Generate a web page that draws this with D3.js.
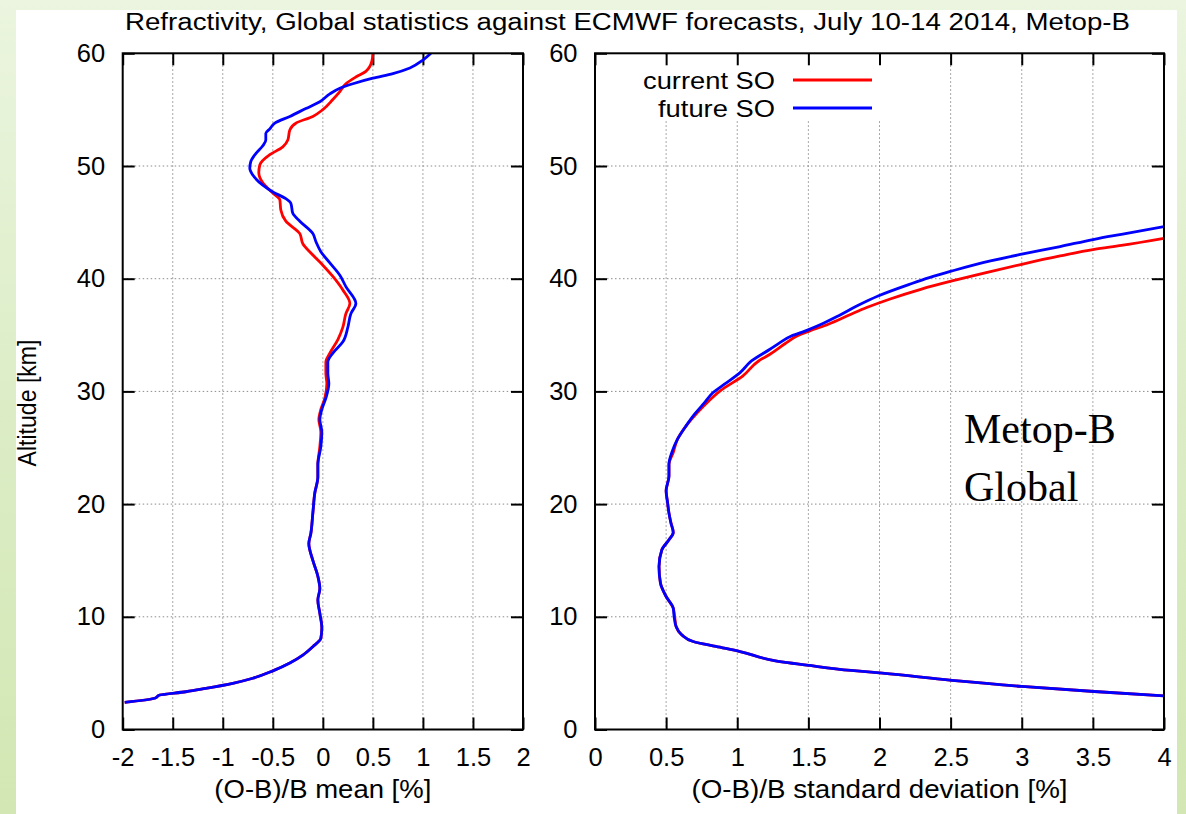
<!DOCTYPE html>
<html>
<head>
<meta charset="utf-8">
<script src="https://cdn.jsdelivr.net/npm/d3@7"></script>
<style>
html,body{margin:0;padding:0;}
body{width:1186px;height:814px;overflow:hidden;background:linear-gradient(180deg,#ebf5df 0%,#dcedc6 50%,#d2e7b3 100%);}
svg{display:block;}
text{font-family:"Liberation Sans",Arial,Helvetica,sans-serif;fill:#000;}
</style>
</head>
<body>
<svg id="chart" width="1186" height="814"></svg>
<script>
// ---------- data ----------
const titleText = "Refractivity, Global statistics against ECMWF forecasts, July 10-14 2014, Metop-B";
const yTicks = [0, 10, 20, 30, 40, 50, 60];
const xTicksMean = [-2, -1.5, -1, -0.5, 0, 0.5, 1, 1.5, 2];
const xTicksStd = [0, 0.5, 1, 1.5, 2, 2.5, 3, 3.5, 4];
const seriesNames = ["current SO", "future SO"];
const seriesColors = ["#ff0000", "#0000ff"];

// [altitude km, (O-B)/B mean %]
const meanCurrent = [
  [2.41,-1.98],[2.77,-1.68],[3.06,-1.63],[3.35,-1.37],[3.65,-1.17],[4.1,-0.90],[4.55,-0.70],
  [5.2,-0.50],[5.9,-0.33],[6.6,-0.20],[7.35,-0.10],[8.1,-0.02],[9.0,-0.01],[10.3,-0.03],
  [11.5,-0.05],[12.5,-0.03],[13.6,-0.05],[15.0,-0.10],[16.5,-0.14],[17.4,-0.12],[19.2,-0.10],
  [21.0,-0.08],[22.4,-0.05],[23.5,-0.05],[25.1,-0.03],[26.4,-0.02],[27.5,-0.04],[28.4,-0.02],
  [29.4,0.02],[30.7,0.04],[31.6,0.03],[32.6,0.03],[33.4,0.07],[34.6,0.15],[35.7,0.20],
  [36.9,0.23],[37.8,0.27],[39.0,0.20],[40.2,0.10],[41.2,0.00],[42.1,-0.10],[43.1,-0.20],
  [44.0,-0.23],[45.1,-0.37],[46.1,-0.42],[47.0,-0.43],[47.6,-0.50],[48.5,-0.60],[49.4,-0.64],
  [50.1,-0.63],[51.0,-0.53],[51.7,-0.40],[52.3,-0.35],[53.2,-0.33],[53.8,-0.27],[54.4,-0.10],
  [55.0,0.00],[55.9,0.10],[56.6,0.17],[57.3,0.23],[57.9,0.33],[58.4,0.43],[59.3,0.49],[60,0.50]
];
const meanFuture = [
  [2.41,-1.98],[2.77,-1.68],[3.06,-1.63],[3.35,-1.37],[3.65,-1.17],[4.1,-0.90],[4.55,-0.70],
  [5.2,-0.50],[5.9,-0.33],[6.6,-0.20],[7.35,-0.10],[8.1,-0.02],[9.0,-0.01],[10.3,-0.03],
  [11.5,-0.05],[12.5,-0.03],[13.6,-0.05],[15.0,-0.10],[16.5,-0.14],[17.4,-0.12],[19.2,-0.10],
  [21.0,-0.08],[22.4,-0.05],[23.5,-0.05],[25.1,-0.02],[26.4,-0.01],[27.5,-0.03],[28.4,-0.01],
  [29.4,0.03],[30.7,0.06],[31.6,0.05],[32.6,0.05],[33.4,0.10],[34.4,0.20],[35.7,0.25],
  [36.9,0.28],[37.8,0.33],[39.3,0.23],[40.3,0.17],[41.4,0.07],[42.4,-0.02],[43.3,-0.07],
  [44.0,-0.10],[45.1,-0.23],[45.8,-0.30],[46.7,-0.32],[47.1,-0.37],[47.7,-0.50],[48.3,-0.60],
  [49.2,-0.70],[49.8,-0.73],[50.4,-0.72],[51.1,-0.67],[51.8,-0.60],[52.3,-0.57],[52.9,-0.57],
  [53.3,-0.53],[53.8,-0.48],[54.4,-0.33],[55.1,-0.17],[55.7,-0.03],[56.4,0.07],[56.9,0.17],
  [57.3,0.30],[57.8,0.50],[58.2,0.70],[58.7,0.87],[59.4,1.00],[60,1.08]
];
// [altitude km, (O-B)/B standard deviation %]
const stdCurrent = [
  [2.99,4.0],[3.37,3.51],[3.82,3.00],[4.35,2.51],[5.0,2.02],[5.24,1.80],[5.68,1.51],[6.12,1.26],
  [6.92,1.02],[7.37,0.85],[7.81,0.69],[8.4,0.61],[9.14,0.57],[10.03,0.56],[10.77,0.55],
  [11.8,0.50],[12.99,0.46],[14.47,0.45],[15.95,0.47],[16.83,0.52],[17.49,0.55],[18.3,0.535],
  [19.2,0.52],[20.15,0.51],[21.18,0.50],[22.5,0.52],[23.54,0.52],[24.58,0.55],[25.76,0.58],
  [27.1,0.65],[28.13,0.72],[29.16,0.80],[30.05,0.88],[31.38,1.04],[32.7,1.15],[33.3,1.23],
  [34.27,1.34],[34.92,1.42],[35.37,1.51],[35.96,1.64],[36.85,1.80],[37.44,1.91],[38.18,2.07],
  [39.06,2.29],[39.8,2.51],[40.54,2.75],[41.28,3.00],[42.02,3.27],[42.61,3.51],[42.96,3.70],[43.59,4.0]
];
const stdFuture = [
  [2.99,4.0],[3.37,3.51],[3.82,3.00],[4.35,2.51],[5.0,2.02],[5.24,1.80],[5.68,1.51],[6.12,1.26],
  [6.92,1.02],[7.37,0.85],[7.81,0.69],[8.4,0.61],[9.14,0.57],[10.03,0.556],[10.77,0.55],
  [11.8,0.50],[12.99,0.46],[14.47,0.45],[15.95,0.47],[16.83,0.52],[17.49,0.55],[18.3,0.534],
  [19.2,0.52],[20.15,0.51],[21.18,0.50],[22.5,0.52],[23.54,0.52],[24.58,0.54],[25.76,0.58],
  [26.94,0.64],[27.98,0.70],[29.0,0.77],[29.9,0.83],[30.64,0.91],[31.67,1.02],[32.7,1.10],
  [33.74,1.23],[34.33,1.30],[34.92,1.38],[35.37,1.48],[35.96,1.59],[36.7,1.71],[37.58,1.84],
  [38.47,1.99],[39.5,2.21],[40.1,2.35],[40.69,2.51],[41.58,2.78],[42.17,3.00],[42.85,3.27],
  [43.5,3.51],[43.94,3.70],[44.62,4.0]
];

// ---------- layout ----------
const svg = d3.select("#chart");
svg.append("rect").attr("x",16).attr("y",10).attr("width",1161).attr("height",804).attr("fill","#fff");

const plotTop = 53.3, plotBottom = 729.5;
const y = d3.scaleLinear().domain([0,60]).range([plotBottom, plotTop]);
const panels = [
  {x: d3.scaleLinear().domain([-2,2]).range([122.7,523]), ticks: xTicksMean,
   data: [meanCurrent, meanFuture], label: "(O-B)/B mean [%]", labelLen: 217, id:"L"},
  {x: d3.scaleLinear().domain([0,4]).range([595,1164]), ticks: xTicksStd,
   data: [stdCurrent, stdFuture], label: "(O-B)/B standard deviation [%]", labelLen: 376, id:"R"}
];
const fmt = d => String(d);

panels.forEach((p, pi) => {
  const x = p.x;
  const x0 = x.range()[0], x1 = x.range()[1];
  const g = svg.append("g");
  g.append("defs").append("clipPath").attr("id","clip"+p.id)
    .append("rect").attr("x",x0).attr("y",plotTop).attr("width",x1-x0).attr("height",plotBottom-plotTop);

  // grid
  const grid = g.append("g").attr("stroke","#8c8c8c").attr("stroke-width",1).attr("stroke-dasharray","1.5,2.5");
  p.ticks.slice(1,-1).forEach(t => {
    grid.append("line").attr("x1",x(t)).attr("x2",x(t)).attr("y1",plotTop).attr("y2",plotBottom);
  });
  yTicks.slice(1,-1).forEach(t => {
    grid.append("line").attr("x1",x0).attr("x2",x1).attr("y1",y(t)).attr("y2",y(t));
  });

  // legend background (right panel)
  if (pi === 1) {
    g.append("rect").attr("x",598).attr("y",55).attr("width",290).attr("height",66).attr("fill","#fff");
  }

  // axes (inward ticks on all sides)
  const axB = d3.axisBottom(x).tickValues(p.ticks).tickFormat(fmt).tickSizeInner(-12).tickSizeOuter(0).tickPadding(18);
  const axT = d3.axisTop(x).tickValues(p.ticks).tickFormat("").tickSizeInner(-12).tickSizeOuter(0);
  const axL = d3.axisLeft(y).tickValues(yTicks).tickFormat(fmt).tickSizeInner(-12).tickSizeOuter(0).tickPadding(17.5);
  const axR = d3.axisRight(y).tickValues(yTicks).tickFormat("").tickSizeInner(-12).tickSizeOuter(0);
  const style = sel => {
    sel.select(".domain").remove();
    sel.selectAll(".tick line").attr("stroke","#000").attr("stroke-width",2);
    sel.selectAll(".tick text").attr("fill","#000").style("font-size","25.5px")
      .style("font-family",'"Liberation Sans",Arial,sans-serif');
  };
  g.append("g").attr("transform",`translate(0,${plotBottom})`).call(axB).call(style);
  g.append("g").attr("transform",`translate(0,${plotTop})`).call(axT).call(style);
  g.append("g").attr("transform",`translate(${x0},0)`).call(axL).call(style);
  g.append("g").attr("transform",`translate(${x1},0)`).call(axR).call(style);

  // curves
  const line = d3.line().x(d => x(d[1])).y(d => y(d[0])).curve(d3.curveMonotoneY);
  const cg = g.append("g").attr("clip-path",`url(#clip${p.id})`);
  p.data.forEach((ser, si) => {
    cg.append("path").datum(ser).attr("d",line).attr("fill","none")
      .attr("stroke",seriesColors[si]).attr("stroke-width",2.8).attr("stroke-linejoin","round");
  });

  // frame
  g.append("rect").attr("x",x0).attr("y",plotTop).attr("width",x1-x0).attr("height",plotBottom-plotTop)
    .attr("fill","none").attr("stroke","#000").attr("stroke-width",2);

  // x label
  g.append("text").attr("x",(x0+x1)/2).attr("y",798).attr("text-anchor","middle")
    .style("font-size","25px").attr("textLength",p.labelLen).attr("lengthAdjust","spacingAndGlyphs")
    .text(p.label);
});

// title
svg.append("text").attr("x",125).attr("y",30).style("font-size","23.5px")
  .attr("textLength",1005).attr("lengthAdjust","spacingAndGlyphs").text(titleText);

// y label
svg.append("text").attr("transform","translate(36,403) rotate(-90)").attr("text-anchor","middle")
  .style("font-size","25px").attr("textLength",127).attr("lengthAdjust","spacingAndGlyphs")
  .text("Altitude [km]");

// legend
const legY = [80, 108];
const legLens = [132, 117];
seriesNames.forEach((n, i) => {
  svg.append("text").attr("x",775).attr("y",legY[i]+8.5).attr("text-anchor","end")
    .style("font-size","24px").attr("textLength",legLens[i]).attr("lengthAdjust","spacingAndGlyphs").text(n);
  svg.append("line").attr("x1",793).attr("x2",872).attr("y1",legY[i]).attr("y2",legY[i])
    .attr("stroke",seriesColors[i]).attr("stroke-width",2.8);
});

// annotation
const serif = '"Liberation Serif","Times New Roman",serif';
svg.append("text").attr("x",964).attr("y",443).style("font-family",serif).style("font-size","42px").text("Metop-B");
svg.append("text").attr("x",964).attr("y",501).style("font-family",serif).style("font-size","42px").text("Global");
</script>
</body>
</html>
